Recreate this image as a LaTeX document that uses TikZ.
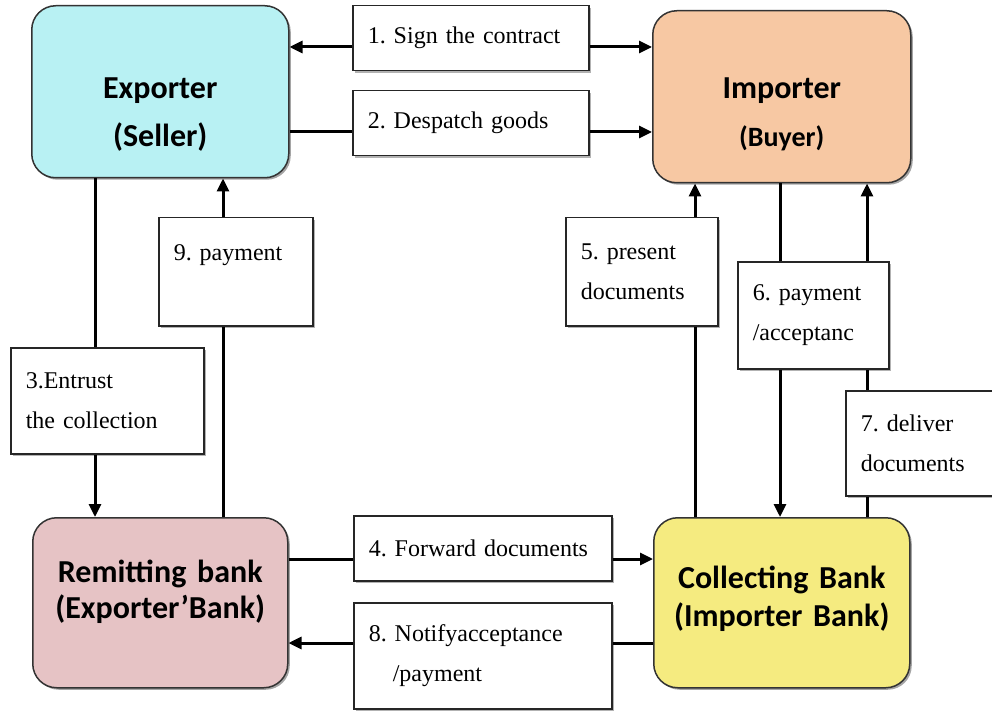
\documentclass[tikz,border=0pt]{standalone}
\usepackage{fontspec}
\setmainfont{Liberation Serif}
\newfontfamily\titlefont{Carlito}
\usetikzlibrary{arrows.meta}
\usetikzlibrary{shadows}
\definecolor{sellercol}{HTML}{B8F1F3}
\definecolor{buyercol}{HTML}{F7C8A3}
\definecolor{remitcol}{HTML}{E6C3C5}
\definecolor{collectcol}{HTML}{F5EB80}

\begin{document}
\begin{tikzpicture} [x=1pt, y=-1pt,
        party/.style={draw=black!80, line width=1.5pt, rounded corners=24pt, anchor=north west,
            text width=234pt, align=center, font=\titlefont\bfseries\fontsize{32}{36}\selectfont,
            drop shadow={shadow xshift=2pt, shadow yshift=-2pt, fill=black!70}},
        lbl/.style={draw=black!85, line width=1.5pt, fill=white, anchor=north west, align=left,
            inner xsep=15pt, inner ysep=0pt, font=\fontsize{24}{40}\selectfont\frenchspacing,
            drop shadow={shadow xshift=2pt, shadow yshift=-2pt, fill=black!60}},
        link/.style={line width=3pt},
        arr/.style={link, -{Triangle[length=13pt, width=12pt]}}]
            \useasboundingbox (0,0) rectangle (992,711);

            \node[party, fill=sellercol, minimum width=257pt, minimum height=172pt,
                text height=30pt, text depth=16pt] (exp) at (31, 5) {Exporter\\[12pt](Seller)};
            \node[party, fill=buyercol, minimum width=258pt, minimum height=172pt,
                text height=30pt, text depth=26pt] (imp) at (652, 10) {Importer\\[12pt]{\fontsize{28}{30}\selectfont(Buyer)}};
            \node[party, fill=remitcol, minimum width=255pt, minimum height=170pt,
                text height=20pt, text depth=60pt] (remit) at (32, 517) {Remitting bank\\(Exporter’Bank)};
            \node[party, fill=collectcol, minimum width=256pt, minimum height=170pt,
                text height=20pt, text depth=48pt] (collect) at (653, 517) {Collecting Bank\\[2pt](Importer Bank)};

            \node[lbl, text width=206pt, minimum height=65pt] (sign) at (352, 5) {1. Sign the contract};
            \node[lbl, text width=206pt, minimum height=65pt] (despatch) at (352, 90) {2. Despatch goods};
            \node[lbl, text width=163pt, minimum height=106pt] (entrust) at (10, 347) {3.Entrust\\the collection};
            \node[lbl, text width=228pt, minimum height=65pt] (forward) at (353, 515) {4. Forward documents};
            \node[lbl, text width=122pt, minimum height=108pt] (present) at (565, 217) {5. present\\documents};
            \node[lbl, text width=121pt, minimum height=107pt] (pay6) at (737, 261) {6. payment\\/acceptanc};
            \node[lbl, text width=120pt, minimum height=105pt] (deliver) at (845, 390) {7. deliver\\documents};
            \node[lbl, text width=228pt, minimum height=106pt] (notify) at (353, 602) {8. Notifyacceptance\\\hspace*{24pt}/payment};
            \node[lbl, text width=124pt, minimum height=108pt,
                text height=18pt, text depth=40pt] (pay9) at (158, 217) {9. payment};

            \coordinate (r1) at (0, 47);
            \coordinate (r2) at (0, 132);
            \coordinate (r4) at (0, 559);
            \coordinate (r8) at (0, 643);
            \coordinate (c3) at (95, 0);
            \coordinate (c9) at (223, 0);
            \coordinate (c5) at (695, 0);
            \coordinate (c6) at (780, 0);
            \coordinate (c7) at (867, 0);

            \draw[arr] (sign.west |- r1) -- (exp.east |- r1);
            \draw[arr] (sign.east |- r1) -- (imp.west |- r1);
            \draw[link] (exp.east |- r2) -- (despatch.west |- r2);
            \draw[arr] (despatch.east |- r2) -- (imp.west |- r2);

            \draw[link] (exp.south -| c3) -- (entrust.north -| c3);
            \draw[arr] (entrust.south -| c3) -- (remit.north -| c3);
            \draw[link] (remit.north -| c9) -- (pay9.south -| c9);
            \draw[arr] (pay9.north -| c9) -- (exp.south -| c9);

            \draw[link] (remit.east |- r4) -- (forward.west |- r4);
            \draw[arr] (forward.east |- r4) -- (collect.west |- r4);
            \draw[link] (collect.west |- r8) -- (notify.east |- r8);
            \draw[arr] (notify.west |- r8) -- (remit.east |- r8);

            \draw[link] (collect.north -| c5) -- (present.south -| c5);
            \draw[arr] (present.north -| c5) -- (imp.south -| c5);
            \draw[link] (imp.south -| c6) -- (pay6.north -| c6);
            \draw[arr] (pay6.south -| c6) -- (collect.north -| c6);
            \draw[link] (collect.north -| c7) -- (deliver.south -| c7);
            \draw[link] (deliver.north -| c7) -- (pay6.south -| c7);
            \draw[arr] (pay6.north -| c7) -- (imp.south -| c7);
\end{tikzpicture}
\end{document}
